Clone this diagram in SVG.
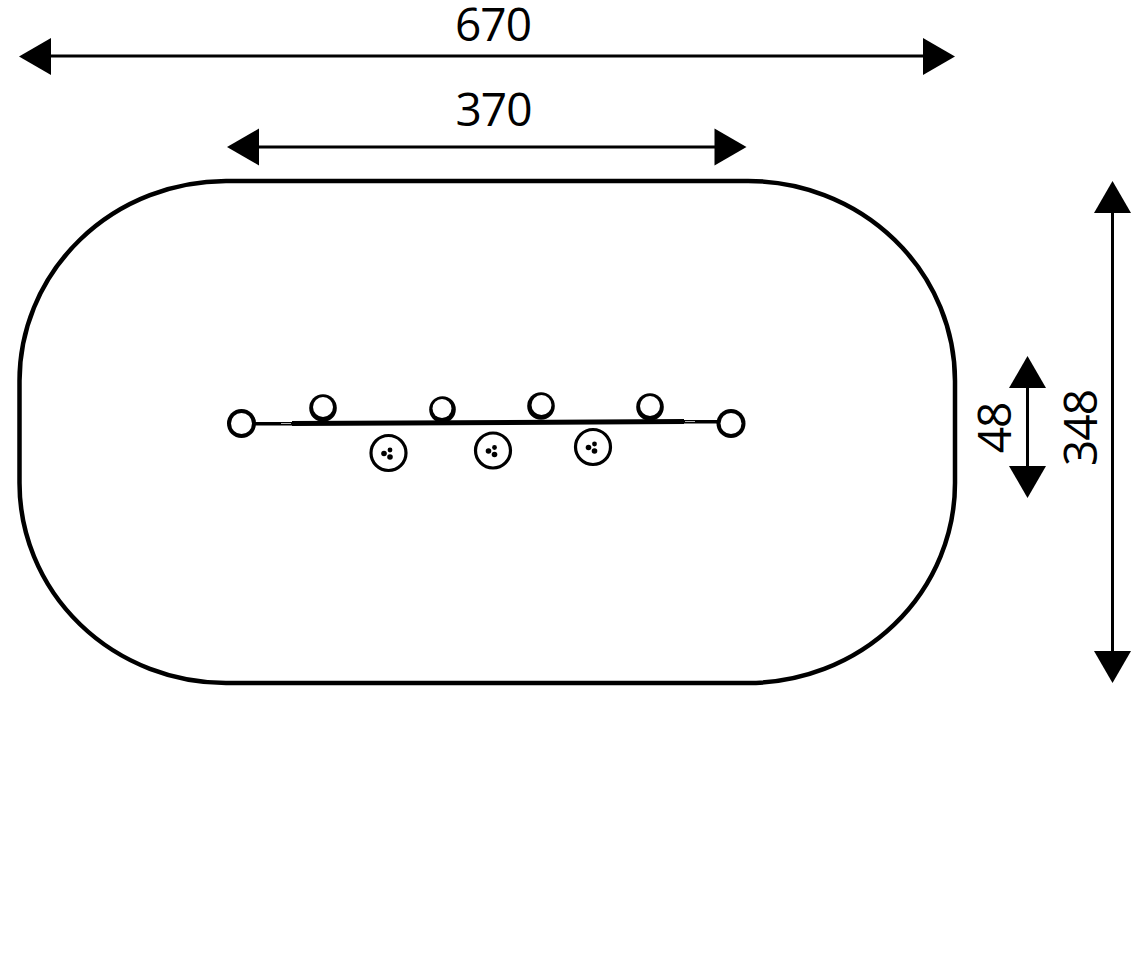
<svg xmlns="http://www.w3.org/2000/svg" width="1134" height="964" viewBox="0 0 1134 964">
<style>
.dim{stroke:#000;stroke-width:3;fill:none}
.head{fill:#000;stroke:none}
.t{font-family:"Open Sans","Liberation Sans",sans-serif;font-size:46px;fill:#000;letter-spacing:-1px}
.out{fill:#000}
.in{fill:#fff}
.dot{fill:#000}
</style>
<defs>
<g id="plate"><circle r="17.5" fill="#fff" stroke="#000" stroke-width="3.200"/><circle cx="-4.500" cy="0.500" r="2.800" class="dot"/><circle cx="1.500" cy="-3" r="2.400" class="dot"/><circle cx="1.500" cy="4" r="2.800" class="dot"/></g>
</defs>
<path id="outline" d="M226 181H748A207 200 0 0 1 955 381V483A207 200 0 0 1 748 683H226A207 200 0 0 1 19.500 483V381A207 200 0 0 1 226 181Z" fill="#fff" stroke="#000" stroke-width="4.500"/>
<g id="connectors">
<g id="dim-670"><line class="dim" x1="50" y1="56" x2="924" y2="56"/><path class="head" d="M19 56.500L51 38V75Z"/><path class="head" d="M955 56.500L923 38V75Z"/></g>
<g id="dim-370"><line class="dim" x1="258" y1="147" x2="716" y2="147"/><path class="head" d="M227 147L259 128.500V165.500Z"/><path class="head" d="M746.500 147L714.500 128.500V165.500Z"/></g>
<g id="dim-48"><line class="dim" x1="1027.500" y1="386" x2="1027.500" y2="468"/><path class="head" d="M1027.500 356L1046 388H1009Z"/><path class="head" d="M1027.500 498L1046 466H1009Z"/></g>
<g id="dim-348"><line class="dim" x1="1112.500" y1="212" x2="1112.500" y2="652"/><path class="head" d="M1112.500 181L1131 213H1094Z"/><path class="head" d="M1112.500 683L1131 651H1094Z"/></g>
<path id="bar" d="M292 423.500L684 421.500" stroke="#000" stroke-width="5" fill="none"/>
<path id="bar-left" d="M252 423.700H292" stroke="#000" stroke-width="3.500" fill="none"/>
<path id="bar-right" d="M684 421.800H720" stroke="#000" stroke-width="3.500" fill="none"/>
<path id="bar-left-gap" d="M281 423.500H291" stroke="#fff" stroke-width="1" stroke-opacity="0.7" fill="none"/>
<path id="bar-right-gap" d="M685 421.500H695" stroke="#fff" stroke-width="1" stroke-opacity="0.7" fill="none"/>
</g>
<g id="post-1"><circle class="out" cx="241.500" cy="423.500" r="14.500"/><circle class="in" cx="241.500" cy="423.500" r="10.500"/></g>
<g id="post-2"><circle class="out" cx="323" cy="408" r="13.800"/><circle class="in" cx="323" cy="407" r="10"/></g>
<g id="post-3"><circle class="out" cx="442.500" cy="409.500" r="13.300"/><circle class="in" cx="442" cy="408.500" r="9.500"/></g>
<g id="post-4"><circle class="out" cx="541" cy="406" r="13.800"/><circle class="in" cx="541.500" cy="405" r="10"/></g>
<g id="post-5"><circle class="out" cx="650" cy="407" r="13.800"/><circle class="in" cx="650" cy="406" r="10"/></g>
<g id="post-6"><circle class="out" cx="731" cy="423.500" r="14.500"/><circle class="in" cx="731" cy="423.500" r="10.500"/></g>
<use id="plate-1" href="#plate" x="388.500" y="453"/>
<use id="plate-2" href="#plate" x="493" y="450.500"/>
<use id="plate-3" href="#plate" x="593" y="447"/>
<text class="t" x="493" y="40.500" text-anchor="middle">670</text>
<text class="t" x="493.500" y="126" text-anchor="middle">370</text>
<text class="t" transform="translate(1011 428) rotate(-90)" text-anchor="middle">48</text>
<text class="t" transform="translate(1097 428) rotate(-90)" text-anchor="middle">348</text>
</svg>
